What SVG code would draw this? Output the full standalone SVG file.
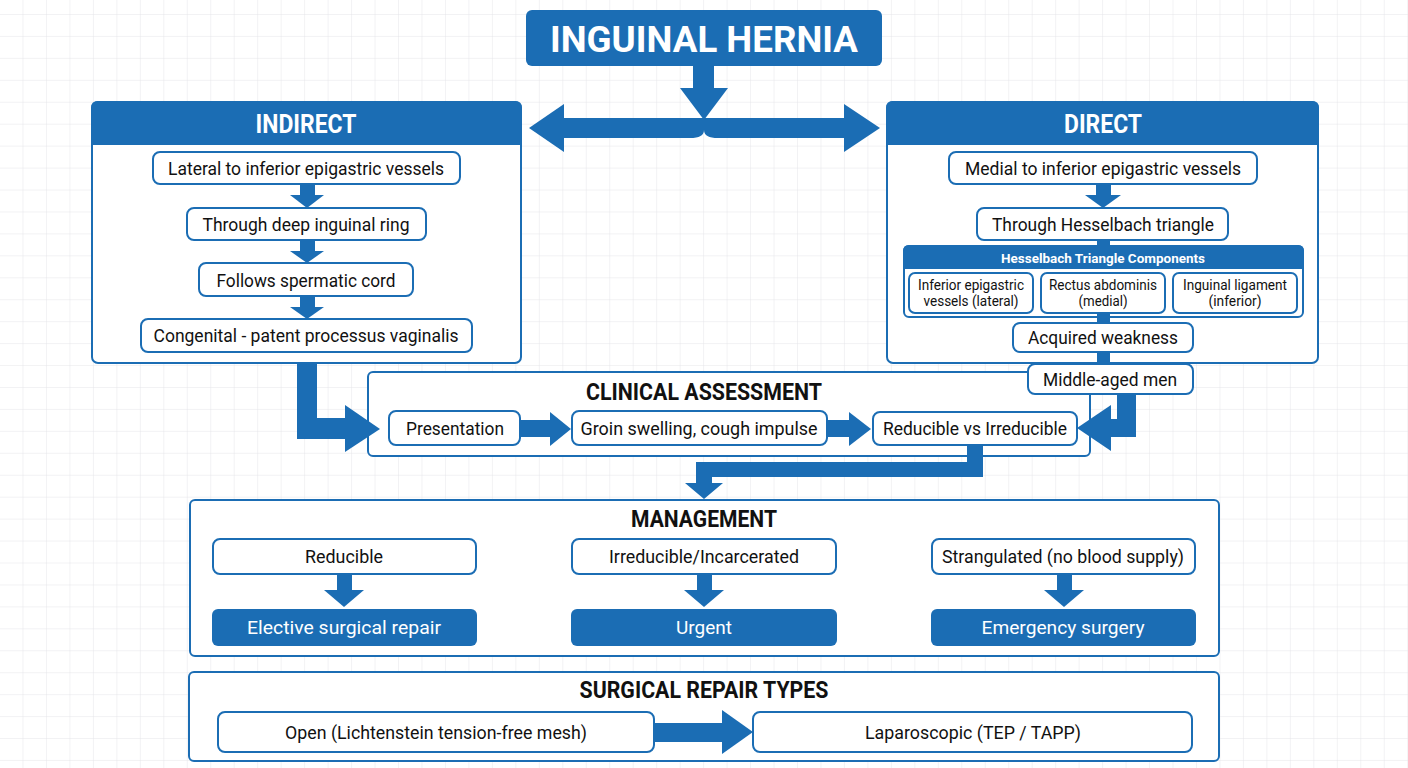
<svg xmlns="http://www.w3.org/2000/svg" width="1408" height="768" viewBox="0 0 1408 768">
<defs>
<pattern id="grid" patternUnits="userSpaceOnUse" x="0" y="14" width="23.47" height="21.94">
<path d="M23.47 0V21.94M0 0H23.47" fill="none" stroke="#e5e5e9" stroke-width="1"/>
</pattern>
<style>
.c{fill:#fff;stroke:#1b6db4;stroke-width:2}
.b{fill:#fff;stroke:#1b6db4;stroke-width:2}
.f{fill:#1b6db4}
.t{font-family:Roboto,"Liberation Sans",sans-serif;font-size:19px;fill:#111;text-anchor:middle}
.w{fill:#fff}
.bd{font-weight:bold}
.s{font-size:14px}
</style>
</defs>
<rect width="1408" height="768" fill="#fff"/>
<rect width="1408" height="768" fill="url(#grid)"/>

<g id="indirect">
<rect class="c" x="92" y="102" width="429" height="261" rx="6"/>
<path class="f" d="M91,145V108Q91,101 98,101H515Q522,101 522,108V145Z"/>
<text class="t w bd" x="306" y="133" style="font-size:26px" textLength="101" lengthAdjust="spacingAndGlyphs">INDIRECT</text>
</g>
<g id="direct">
<rect class="c" x="887" y="102" width="431" height="261" rx="6"/>
<path class="f" d="M886,145V108Q886,101 893,101H1312Q1319,101 1319,108V145Z"/>
<text class="t w bd" x="1103" y="133" style="font-size:26px" textLength="78" lengthAdjust="spacingAndGlyphs">DIRECT</text>
</g>
<g id="hesselbach">
<rect class="c" x="904" y="246" width="399" height="71" rx="5"/>
<path class="f" d="M903,269V251Q903,245 909,245H1298Q1304,245 1304,251V269Z"/>
<text class="t w bd" x="1103" y="263" style="font-size:13.5px" textLength="204" lengthAdjust="spacingAndGlyphs">Hesselbach Triangle Components</text>
</g>
<g id="clinical">
<rect class="c" x="368" y="372" width="722" height="84" rx="5"/>
<text class="t bd" x="704" y="400" style="font-size:23px" textLength="236" lengthAdjust="spacingAndGlyphs">CLINICAL ASSESSMENT</text>
</g>
<g id="management">
<rect class="c" x="190" y="500" width="1029" height="156" rx="5"/>
<text class="t bd" x="704" y="527" style="font-size:23px" textLength="146" lengthAdjust="spacingAndGlyphs">MANAGEMENT</text>
</g>
<g id="surgical">
<rect class="c" x="189" y="672" width="1030" height="89" rx="5"/>
<text class="t bd" x="704" y="698" style="font-size:23px" textLength="249" lengthAdjust="spacingAndGlyphs">SURGICAL REPAIR TYPES</text>
</g>

<g id="connectors" class="f">
<rect x="693" y="60" width="21" height="40"/>
<polygon points="680,88 728,88 704,120"/>
<path d="M560,118H848V138H718Q704,138 704,130Q704,138 690,138H560Z"/>
<polygon points="564,104 529,128 564,152"/>
<polygon points="844,104 880,128 844,152"/>
<rect x="300" y="184" width="15" height="12"/><polygon points="290,195 324,195 307,208"/>
<rect x="300" y="240" width="15" height="12"/><polygon points="290,251 324,251 307,263"/>
<rect x="300" y="296" width="15" height="12"/><polygon points="290,307 324,307 307,319"/>
<rect x="1096" y="184" width="15" height="12"/><polygon points="1085,195 1121,195 1103,208"/>
<rect x="1097" y="239" width="13" height="7"/>
<rect x="1097" y="310" width="13" height="55"/>
<path d="M297,362H317V418H346V439H297Z"/>
<polygon points="345,405 380,429 345,452"/>
<path d="M1117,394H1136V437H1108V419H1117Z"/>
<polygon points="1111,405 1077,428 1111,451"/>
<rect x="519" y="420" width="32" height="17"/><polygon points="550,412 571,429 550,446"/>
<rect x="826" y="420" width="24" height="17"/><polygon points="849,412 871,429 849,446"/>
<path d="M967,444H983V477H712V484H696V462H967Z"/>
<polygon points="685,483 723,483 704,499"/>
<rect x="337" y="574" width="15" height="17"/><polygon points="324,590 364,590 344,607"/>
<rect x="697" y="574" width="15" height="17"/><polygon points="684,590 724,590 704,607"/>
<rect x="1057" y="574" width="15" height="17"/><polygon points="1044,590 1084,590 1064,607"/>
<rect x="653" y="723" width="70" height="19"/><polygon points="722,710 753,732 722,754"/>
</g>

<g id="title">
<rect class="f" x="526" y="10" width="356" height="56" rx="6"/>
<text class="t w bd" x="704" y="52" style="font-size:37px" textLength="308" lengthAdjust="spacingAndGlyphs">INGUINAL HERNIA</text>
</g>

<g id="ind1"><rect class="b" x="153" y="152" width="307" height="32" rx="7"/><text class="t" x="306" y="175" textLength="276" lengthAdjust="spacingAndGlyphs">Lateral to inferior epigastric vessels</text></g>
<g id="ind2"><rect class="b" x="187" y="208" width="239" height="32" rx="7"/><text class="t" x="306" y="231" textLength="207" lengthAdjust="spacingAndGlyphs">Through deep inguinal ring</text></g>
<g id="ind3"><rect class="b" x="199" y="263" width="214" height="33" rx="7"/><text class="t" x="306" y="287" textLength="179" lengthAdjust="spacingAndGlyphs">Follows spermatic cord</text></g>
<g id="ind4"><rect class="b" x="141" y="319" width="331" height="33" rx="7"/><text class="t" x="306" y="342" textLength="305" lengthAdjust="spacingAndGlyphs">Congenital - patent processus vaginalis</text></g>

<g id="dir1"><rect class="b" x="949" y="152" width="308" height="32" rx="7"/><text class="t" x="1103" y="175" textLength="276" lengthAdjust="spacingAndGlyphs">Medial to inferior epigastric vessels</text></g>
<g id="dir2"><rect class="b" x="977" y="208" width="251" height="32" rx="7"/><text class="t" x="1103" y="231" textLength="222" lengthAdjust="spacingAndGlyphs">Through Hesselbach triangle</text></g>
<g id="hb1"><rect class="b" x="909" y="273" width="124" height="40" rx="6"/><text class="t s" x="971" y="290" textLength="106" lengthAdjust="spacingAndGlyphs">Inferior epigastric</text><text class="t s" x="971" y="306" textLength="95" lengthAdjust="spacingAndGlyphs">vessels (lateral)</text></g>
<g id="hb2"><rect class="b" x="1041" y="273" width="124" height="40" rx="6"/><text class="t s" x="1103" y="290" textLength="108" lengthAdjust="spacingAndGlyphs">Rectus abdominis</text><text class="t s" x="1103" y="306" textLength="49" lengthAdjust="spacingAndGlyphs">(medial)</text></g>
<g id="hb3"><rect class="b" x="1173" y="273" width="124" height="40" rx="6"/><text class="t s" x="1235" y="290" textLength="104" lengthAdjust="spacingAndGlyphs">Inguinal ligament</text><text class="t s" x="1235" y="306" textLength="53" lengthAdjust="spacingAndGlyphs">(inferior)</text></g>
<g id="dir3"><rect class="b" x="1013" y="323" width="180" height="29" rx="7"/><text class="t" x="1103" y="344" textLength="150" lengthAdjust="spacingAndGlyphs">Acquired weakness</text></g>
<g id="dir4"><rect class="b" x="1028" y="364" width="165" height="30" rx="7"/><text class="t" x="1110" y="386" textLength="134" lengthAdjust="spacingAndGlyphs">Middle-aged men</text></g>

<g id="cl1"><rect class="b" x="389" y="411" width="131" height="34" rx="7"/><text class="t" x="455" y="435" textLength="98" lengthAdjust="spacingAndGlyphs">Presentation</text></g>
<g id="cl2"><rect class="b" x="572" y="411" width="255" height="34" rx="7"/><text class="t" x="699" y="435" textLength="237" lengthAdjust="spacingAndGlyphs">Groin swelling, cough impulse</text></g>
<g id="cl3"><rect class="b" x="873" y="412" width="204" height="33" rx="7"/><text class="t" x="975" y="435" textLength="184" lengthAdjust="spacingAndGlyphs">Reducible vs Irreducible</text></g>

<g id="m1"><rect class="b" x="213" y="539" width="263" height="35" rx="7"/><text class="t" x="344" y="563" textLength="78" lengthAdjust="spacingAndGlyphs">Reducible</text></g>
<g id="m2"><rect class="b" x="572" y="539" width="264" height="35" rx="7"/><text class="t" x="704" y="563" textLength="190" lengthAdjust="spacingAndGlyphs">Irreducible/Incarcerated</text></g>
<g id="m3"><rect class="b" x="932" y="539" width="263" height="35" rx="7"/><text class="t" x="1063" y="563" textLength="242" lengthAdjust="spacingAndGlyphs">Strangulated (no blood supply)</text></g>
<g id="m4"><rect class="f" x="212" y="609" width="265" height="37" rx="6"/><text class="t w" x="344" y="634" textLength="194" lengthAdjust="spacingAndGlyphs">Elective surgical repair</text></g>
<g id="m5"><rect class="f" x="571" y="609" width="266" height="37" rx="6"/><text class="t w" x="704" y="634" textLength="56" lengthAdjust="spacingAndGlyphs">Urgent</text></g>
<g id="m6"><rect class="f" x="931" y="609" width="265" height="37" rx="6"/><text class="t w" x="1063" y="634" textLength="163" lengthAdjust="spacingAndGlyphs">Emergency surgery</text></g>

<g id="s1"><rect class="b" x="218" y="712" width="436" height="40" rx="7"/><text class="t" x="436" y="739" textLength="302" lengthAdjust="spacingAndGlyphs">Open (Lichtenstein tension-free mesh)</text></g>
<g id="s2"><rect class="b" x="753" y="712" width="439" height="40" rx="7"/><text class="t" x="973" y="739" textLength="216" lengthAdjust="spacingAndGlyphs">Laparoscopic (TEP / TAPP)</text></g>
</svg>
